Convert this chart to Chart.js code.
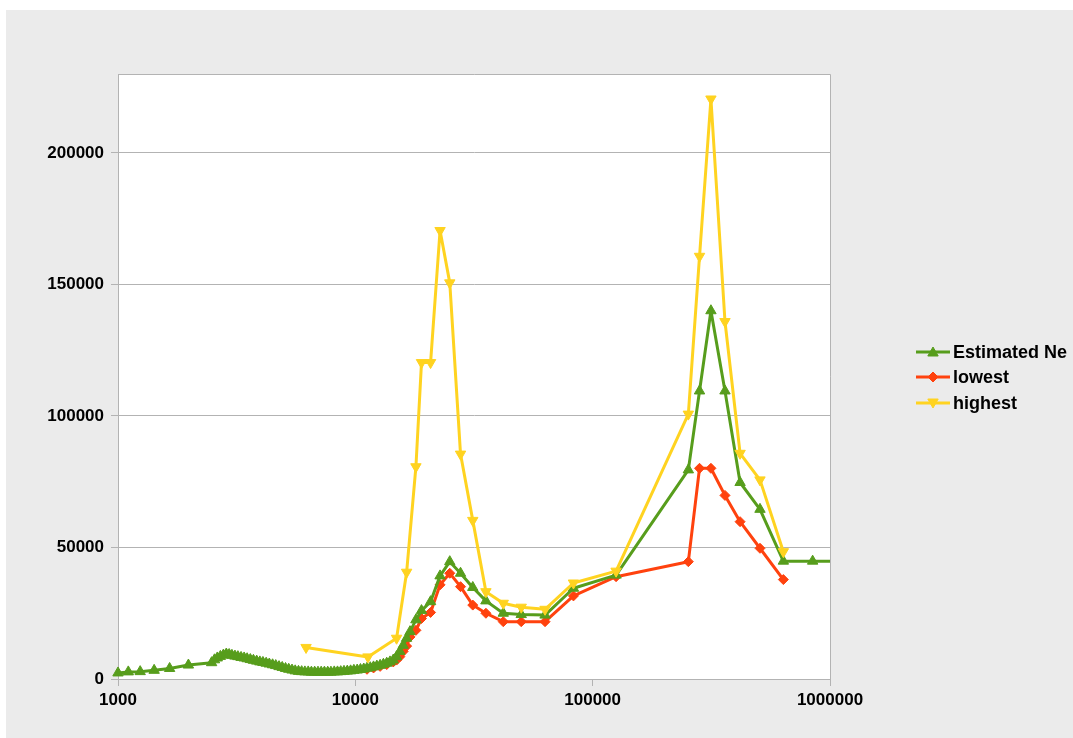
<!DOCTYPE html>
<html>
<head>
<meta charset="utf-8">
<script src="https://cdn.jsdelivr.net/npm/chart.js@4/dist/chart.umd.min.js"></script>
<style>
  html, body { margin: 0; padding: 0; background: #ffffff; }
  #wrap { width: 1073px; height: 738px; }
</style>
</head>
<body>
<div id="wrap"><canvas id="c" width="1073" height="738"></canvas></div>
<script>
// Time (years ago) and effective population size estimates
const neTimes = [1000, 1105, 1240, 1420, 1650, 1980,
  2480, 2550, 2620, 2700, 2780, 2860, 2940, 3020, 3110, 3200,
  3300, 3400, 3500, 3610, 3720, 3840, 3960, 4080, 4210, 4340,
  4480, 4620, 4770, 4920, 5080, 5240, 5410, 5580, 5760, 5940,
  6130, 6330, 6530, 6740, 6960, 7180, 7410, 7650, 7890, 8150,
  8410, 8680, 8960, 9250, 9550, 9860, 10180, 10510, 10850, 11200,
  11560, 11930, 12320, 12720, 13130, 13560, 14000, 14450, 14920, 15400,
  15900, 16450, 17000, 18000, 19000, 20750, 22750, 25000, 27750, 31250,
  35500, 42000, 50000, 63000, 83000, 125500, 253000, 282000, 315000, 361000,
  418000, 507000, 636000, 845000, 1200000];
const neValues = [2300, 2700, 2800, 3300, 4000, 5300,
  6200, 7300, 8000, 8600, 9100, 9500, 9300, 9000, 8700, 8500,
  8200, 8000, 7700, 7400, 7100, 6800, 6500, 6300, 6000, 5700,
  5400, 5100, 4700, 4400, 4000, 3700, 3400, 3100, 2900, 2800,
  2700, 2700, 2600, 2600, 2600, 2600, 2600, 2600, 2600, 2700,
  2700, 2800, 2900, 3000, 3100, 3300, 3400, 3600, 3800, 4100,
  4300, 4600, 4900, 5200, 5600, 6000, 6500, 7200, 8500, 10500,
  12800, 15500, 18000, 22500, 26000, 29400, 39200, 44600, 40200, 34800,
  29700, 25000, 24500, 24300, 34500, 39500, 79500, 109500, 140000, 109500,
  74700, 64500, 44800, 44800, 44800];

const lowTimes = [11200, 11930, 12720, 13560, 14450, 14920, 15400, 15900, 16450, 17000,
  18000, 19000, 20750, 22750, 25000, 27750, 31250, 35500, 42000, 50000,
  63000, 83000, 125500, 253000, 282000, 315000, 361000, 418000, 507000, 636000];
const lowValues = [3700, 4200, 4800, 5500, 6500, 7200, 8500, 10500, 12500, 16000,
  18500, 23000, 25300, 35800, 40200, 35100, 28100, 25000, 21800, 21800,
  21800, 31600, 38900, 44600, 80100, 80100, 69800, 59800, 49700, 37800];

const highTimes = [6200, 11300, 14920, 16450, 18000, 19000, 20750, 22750, 25000, 27750,
  31250, 35500, 42000, 50000, 63000, 83000, 125500, 253000, 282000, 315000,
  361000, 418000, 507000, 636000];
const highValues = [12000, 8400, 15500, 40600, 80700, 120300, 120300, 170500, 150600, 85500,
  60300, 33200, 28800, 27300, 26500, 36500, 41000, 100700, 160700, 220500,
  135900, 85800, 75700, 48400];

const seriesNames = ['Estimated Ne', 'lowest', 'highest'];
const xTicks = [1000, 10000, 100000, 1000000];
const yTicks = [0, 50000, 100000, 150000, 200000];

const GREEN = '#579d1c', RED = '#ff420e', YELLOW = '#ffd320';
const GRID = '#b3b3b3';
const FONT = { family: "'Liberation Sans', Arial, sans-serif", size: 17, weight: 'bold' };

function pairs(xs, ys) { return xs.map((x, i) => ({ x: x, y: ys[i] })); }

// Marker shapes for the side legend
function drawMarker(ctx, style, x, y, r, color) {
  ctx.save();
  ctx.fillStyle = color;
  ctx.strokeStyle = color;
  ctx.lineWidth = 1;
  ctx.beginPath();
  if (style === 'up') {
    ctx.moveTo(x, y - r);
    ctx.lineTo(x + r * 0.866, y + r * 0.5);
    ctx.lineTo(x - r * 0.866, y + r * 0.5);
  } else if (style === 'down') {
    ctx.moveTo(x, y + r);
    ctx.lineTo(x + r * 0.866, y - r * 0.5);
    ctx.lineTo(x - r * 0.866, y - r * 0.5);
  } else {
    ctx.moveTo(x, y - r);
    ctx.lineTo(x + r, y);
    ctx.lineTo(x, y + r);
    ctx.lineTo(x - r, y);
  }
  ctx.closePath();
  ctx.fill();
  ctx.stroke();
  ctx.restore();
}

const backdrop = {
  id: 'backdrop',
  beforeDraw(chart) {
    const { ctx, chartArea: a } = chart;
    ctx.save();
    ctx.fillStyle = '#ffffff';
    ctx.fillRect(0, 0, chart.width, chart.height);
    ctx.fillStyle = '#ebebeb';
    ctx.fillRect(6, 10, chart.width - 6, chart.height - 10);
    ctx.fillStyle = '#ffffff';
    ctx.fillRect(a.left, a.top, a.right - a.left, a.bottom - a.top);
    ctx.restore();
  },
  beforeDatasetsDraw(chart) {
    const { ctx, chartArea: a } = chart;
    ctx.save();
    ctx.strokeStyle = GRID;
    ctx.lineWidth = 1;
    ctx.beginPath();
    ctx.moveTo(a.left, a.top + 0.5);
    ctx.lineTo(a.right + 0.5, a.top + 0.5);
    ctx.lineTo(a.right + 0.5, a.bottom);
    ctx.stroke();
    ctx.restore();
  }
};

const sideLegend = {
  id: 'sideLegend',
  afterDraw(chart) {
    const ctx = chart.ctx;
    const rows = [352, 377, 403];
    const styles = ['up', 'diamond', 'down'];
    const colors = [GREEN, RED, YELLOW];
    const radii = [6, 5, 6];
    ctx.save();
    seriesNames.forEach((name, i) => {
      const y = rows[i];
      ctx.strokeStyle = colors[i];
      ctx.lineWidth = 3;
      ctx.beginPath();
      ctx.moveTo(916, y);
      ctx.lineTo(950, y);
      ctx.stroke();
      drawMarker(ctx, styles[i], 933, styles[i] === 'up' ? y + 1 : (styles[i] === 'down' ? y - 1 : y), radii[i], colors[i]);
      ctx.fillStyle = '#000000';
      ctx.font = 'bold 18px "Liberation Sans", Arial, sans-serif';
      ctx.textAlign = 'left';
      ctx.textBaseline = 'middle';
      ctx.fillText(name, 953, y + 1);
    });
    ctx.restore();
  }
};

const lineStyle = (color, shape, radius, rotation, order) => ({
  borderColor: color,
  backgroundColor: color,
  pointBackgroundColor: color,
  pointBorderColor: color,
  borderWidth: 3,
  borderJoinStyle: 'round',
  pointStyle: shape,
  pointRadius: radius,
  pointHoverRadius: radius,
  pointBorderWidth: 1,
  pointRotation: rotation,
  tension: 0,
  fill: false,
  order: order,
  clip: { left: 12, top: 12, right: 0, bottom: 12 }
});

new Chart(document.getElementById('c'), {
  type: 'line',
  data: {
    datasets: [
      Object.assign({ label: seriesNames[0], data: pairs(neTimes, neValues) }, lineStyle(GREEN, 'triangle', 6, 0, 1)),
      Object.assign({ label: seriesNames[1], data: pairs(lowTimes, lowValues) }, lineStyle(RED, 'rectRot', 5, 0, 2)),
      Object.assign({ label: seriesNames[2], data: pairs(highTimes, highValues) }, lineStyle(YELLOW, 'triangle', 6, 180, 0))
    ]
  },
  options: {
    responsive: false,
    animation: false,
    devicePixelRatio: 1,
    layout: { padding: { top: 74, right: 243, bottom: 0, left: 0 } },
    plugins: { legend: { display: false }, tooltip: { enabled: false } },
    events: [],
    scales: {
      x: {
        type: 'logarithmic',
        min: 1000,
        max: 1000000,
        afterBuildTicks: s => { s.ticks = xTicks.map(v => ({ value: v, major: true })); },
        afterFit: s => { s.height = 59; },
        grid: { drawOnChartArea: false, drawTicks: true, tickLength: 7, color: GRID },
        border: { color: GRID, width: 1 },
        ticks: { padding: 4, color: '#000000', font: FONT, maxRotation: 0, autoSkip: false,
                 callback: v => String(v) }
      },
      y: {
        type: 'linear',
        min: 0,
        max: 230000,
        afterBuildTicks: s => { s.ticks = yTicks.map(v => ({ value: v })); },
        afterFit: s => { s.width = 118; },
        grid: { color: GRID, lineWidth: 1, drawTicks: true, tickLength: 7 },
        border: { color: GRID, width: 1 },
        ticks: { padding: 7, color: '#000000', font: FONT, callback: v => String(v) }
      }
    }
  },
  plugins: [backdrop, sideLegend]
});
</script>
</body>
</html>
